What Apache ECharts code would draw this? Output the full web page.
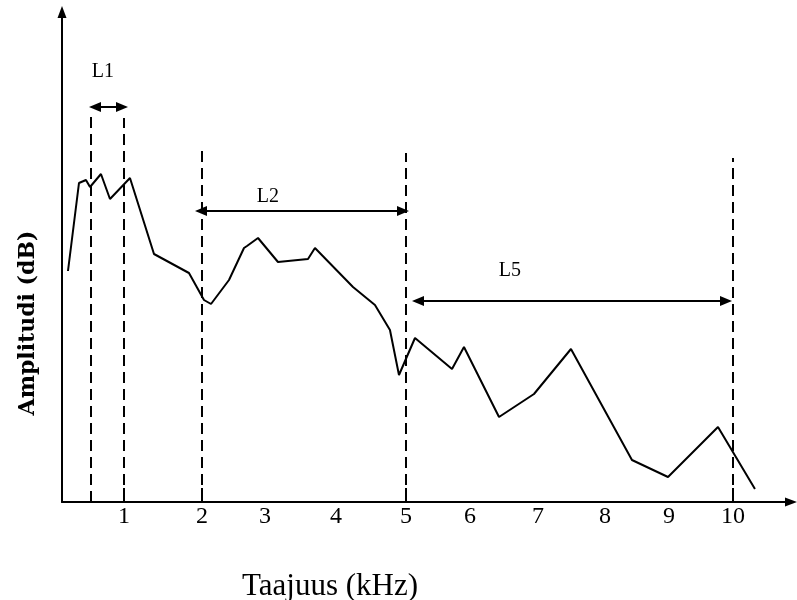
<!DOCTYPE html>
<html>
<head>
<meta charset="utf-8">
<script src="https://cdn.jsdelivr.net/npm/echarts@6/dist/echarts.min.js"></script>
<style>
  html, body { margin: 0; padding: 0; background: #fff; }
  #chart { width: 797px; height: 600px; }
</style>
</head>
<body>
<div id="chart"></div>
<script>
// x axis is in drawing units: the figure's tick labels are not evenly spaced
const tickPos = [0.825, 2, 2.949, 4.019, 5.073, 6.038, 7.062, 8.072, 9.036, 10];
const tickLabels = ['1', '2', '3', '4', '5', '6', '7', '8', '9', '10'];
const tickMarks = [0.825, 2, 5.073, 10];

// spectrum curve
const curveX = [-0.019, 0.147, 0.252, 0.313, 0.478, 0.614, 0.915, 1.277, 1.804, 2.03, 2.136,
  2.407, 2.633, 2.678, 2.844, 3.145, 3.597, 3.702, 4.275, 4.606, 4.832, 4.968, 5.209,
  5.767, 5.947, 6.475, 7.002, 7.559, 8.478, 9.021, 9.774, 10.331];
const curveY = [23.1, 31.9, 32.2, 31.5, 32.8, 30.3, 32.4, 24.8, 22.9, 20.2, 19.8,
  22.2, 25.4, 25.6, 26.4, 24.0, 24.3, 25.4, 21.5, 19.7, 17.2, 12.7, 16.4,
  13.3, 15.5, 8.5, 10.8, 15.3, 4.2, 2.5, 7.5, 1.3];

// dashed band borders
const dividerX = [0.328, 0.825, 2, 5.073, 10];
const dividerTop = [38.7, 38.4, 35.7, 34.9, 34.4];

// band width arrows (ends are arrowhead centres)
const spanNames = ['L1', 'L2', 'L5'];
const spanFrom = [0.388, 1.985, 5.254];
const spanTo = [0.795, 5.028, 9.895];
const spanY = [39.5, 29.1, 20.1];
const spanLabelX = [0.508, 2.994, 6.64];
const spanLabelY = [43.0, 30.5, 23.1];

const chart = echarts.init(document.getElementById('chart'), null, { renderer: 'canvas' });

const serif = 'Liberation Serif';

const dividerLines = dividerX.map((x, i) => [
  { coord: [x, 0] },
  { coord: [x, dividerTop[i]] }
]);

const spanLines = spanNames.map((n, i) => [
  { coord: [spanFrom[i], spanY[i]] },
  { coord: [spanTo[i], spanY[i]] }
]);

const option = {
  animation: false,
  title: {
    text: 'Taajuus (kHz)',
    left: 237,
    top: 566,
    textStyle: { fontFamily: serif, fontSize: 31, fontWeight: 'normal', color: '#000' }
  },
  graphic: [{
    type: 'text',
    x: 28,
    y: 323,
    rotation: Math.PI / 2,
    style: {
      text: 'Amplitudi (dB)',
      font: 'bold 22px "DejaVu Serif"',
      fill: '#000',
      align: 'center',
      verticalAlign: 'middle'
    }
  }],
  grid: { left: 62, right: 6, top: 12, bottom: 98 },
  xAxis: {
    type: 'value',
    min: -0.109,
    max: 10.874,
    splitLine: { show: false },
    axisLine: {
      onZero: false,
      lineStyle: { color: '#000', width: 2 },
      symbol: ['none', 'triangle'],
      symbolSize: [9, 12]
    },
    axisTick: {
      show: true,
      inside: true,
      length: 14,
      customValues: tickMarks,
      lineStyle: { color: '#000', width: 2 }
    },
    axisLabel: {
      customValues: tickPos,
      margin: 3,
      color: '#000',
      fontFamily: serif,
      fontSize: 24,
      formatter: v => {
        const i = tickPos.indexOf(v);
        return i >= 0 ? tickLabels[i] : '';
      }
    }
  },
  yAxis: {
    type: 'value',
    min: 0,
    max: 49,
    splitLine: { show: false },
    axisTick: { show: false },
    axisLabel: { show: false },
    axisLine: {
      show: true,
      onZero: false,
      lineStyle: { color: '#000', width: 2 },
      symbol: ['none', 'triangle'],
      symbolSize: [9, 12]
    }
  },
  series: [
    {
      type: 'line',
      data: curveX.map((x, i) => [x, curveY[i]]),
      symbol: 'none',
      lineStyle: { color: '#000', width: 2 },
      z: 3,
      markLine: {
        silent: true,
        symbol: 'none',
        label: { show: false },
        lineStyle: { color: '#000', width: 2, type: [11, 6] },
        data: dividerLines
      }
    },
    {
      type: 'line',
      data: [],
      markLine: {
        silent: true,
        symbol: ['triangle', 'triangle'],
        symbolSize: [10, 12],
        label: { show: false },
        lineStyle: { color: '#000', width: 2, type: 'solid' },
        data: spanLines
      },
      markPoint: {
        silent: true,
        symbol: 'circle',
        symbolSize: 0,
        label: {
          show: true,
          position: 'inside',
          color: '#000',
          fontFamily: serif,
          fontSize: 20,
          formatter: p => p.name
        },
        data: spanNames.map((n, i) => ({ name: n, coord: [spanLabelX[i], spanLabelY[i]] }))
      }
    }
  ]
};

chart.setOption(option);
</script>
</body>
</html>
